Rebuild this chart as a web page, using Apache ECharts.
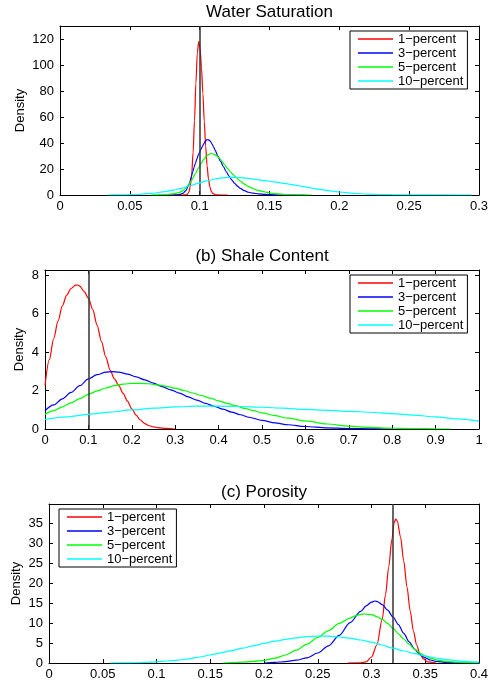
<!DOCTYPE html>
<html>
<head>
<meta charset="utf-8">
<title>Density</title>
<script src="https://cdn.jsdelivr.net/npm/echarts@6.0.0/dist/echarts.min.js"></script>
<style>
html, body { margin: 0; padding: 0; background: #fff; }
#main { width: 493px; height: 683px; }
</style>
</head>
<body>
<div id="main"></div>
<script>
var seriesNames = ['1\u2212percent', '3\u2212percent', '5\u2212percent', '10\u2212percent'];
var panelTitles = ['Water Saturation', '(b) Shale Content', '(c) Porosity'];
var xMax = [0.3, 1, 0.4];
var xStep = [0.05, 0.1, 0.05];
var yMax = [130, 8.26, 39.75];
var yStep = [20, 2, 5];
var trueValue = [0.1, 0.1, 0.32];

// water saturation, [x, density]
var satRed = [[0.08,0],[0.088,0],[0.0903,0.15],[0.0913,0.7],[0.0923,2.3],[0.0933,6.6],[0.0943,16],[0.0953,33],[0.0963,57.5],[0.0973,86],[0.0983,109],[0.0993,118],[0.1003,113],[0.1013,98],[0.1023,78],[0.1033,56.5],[0.1043,37.5],[0.1053,22.5],[0.1063,12.4],[0.1073,6.2],[0.1083,2.9],[0.1093,1.2],[0.1113,0.16],[0.115,0],[0.12,0]];
var satBlue = [[0.075,0],[0.084,0.2],[0.086,0.5],[0.088,1.3],[0.09,3.2],[0.092,7],[0.093,10.2],[0.094,14],[0.095,17.7],[0.096,21.2],[0.097,24.6],[0.098,27.8],[0.099,30.6],[0.1,33],[0.101,35.3],[0.102,37.5],[0.103,39.5],[0.104,41.2],[0.105,42.4],[0.106,42.6],[0.107,42],[0.108,40.8],[0.109,39],[0.11,36.9],[0.111,34.6],[0.113,30],[0.115,25.8],[0.117,21.8],[0.119,18],[0.121,14.6],[0.123,11.5],[0.125,9],[0.127,6.9],[0.129,5.1],[0.132,3.3],[0.135,2.1],[0.138,1.4],[0.142,0.9],[0.147,0.5],[0.155,0.15],[0.165,0],[0.175,0]];
var satGreen = [[0.065,0],[0.0752,0.3],[0.08,0.8],[0.085,1.8],[0.0875,3],[0.0895,4.6],[0.092,7.5],[0.0943,11.5],[0.097,16.5],[0.099,20.5],[0.101,24.2],[0.103,27.5],[0.105,30],[0.107,31.5],[0.1085,31.9],[0.11,31.5],[0.112,30.3],[0.114,28.4],[0.116,25.8],[0.118,23],[0.12,20.3],[0.122,17.8],[0.124,15.6],[0.126,13.6],[0.129,10.8],[0.132,8.4],[0.135,6.4],[0.138,5],[0.141,3.8],[0.144,3],[0.147,2.3],[0.15,1.7],[0.154,1],[0.158,0.6],[0.162,0.3],[0.17,0.1],[0.18,0]];
var satCyan = [[0.034,0],[0.045,0.1],[0.055,0.4],[0.065,1.2],[0.0752,2.6],[0.081,3.7],[0.087,5.1],[0.093,7.1],[0.099,9],[0.105,10.8],[0.111,12.3],[0.116,13.2],[0.1205,13.6],[0.125,13.6],[0.13,13.3],[0.135,12.8],[0.14,12],[0.1468,11],[0.153,10.1],[0.159,9.2],[0.165,8.2],[0.17,7.3],[0.175,6.4],[0.18,5.4],[0.185,4.5],[0.19,3.7],[0.195,2.9],[0.2,2.3],[0.21,1.3],[0.22,0.65],[0.23,0.3],[0.24,0.15],[0.26,0.05],[0.295,0]];

// shale content
var shaleRed = [[0,2.25],[0.01,3.6],[0.02,4.7],[0.03,5.6],[0.04,6.4],[0.05,6.95],[0.06,7.3],[0.07,7.47],[0.075,7.48],[0.08,7.42],[0.09,7.15],[0.1,6.8],[0.11,6.2],[0.12,5.4],[0.13,4.55],[0.14,3.75],[0.15,3.06],[0.16,2.6],[0.17,2.25],[0.18,1.85],[0.19,1.45],[0.2,1.05],[0.21,0.72],[0.219,0.48],[0.23,0.28],[0.24,0.17],[0.25,0.11],[0.26,0.07],[0.28,0.03],[0.3,0]];
var shaleBlue = [[0,0.95],[0.02,1.25],[0.04,1.57],[0.06,1.9],[0.08,2.25],[0.1,2.6],[0.12,2.82],[0.14,2.95],[0.155,2.98],[0.17,2.95],[0.19,2.85],[0.21,2.71],[0.23,2.55],[0.25,2.38],[0.27,2.2],[0.29,2.03],[0.31,1.86],[0.33,1.67],[0.35,1.5],[0.37,1.33],[0.39,1.18],[0.41,1.03],[0.43,0.88],[0.45,0.74],[0.47,0.61],[0.5,0.45],[0.53,0.32],[0.56,0.22],[0.6,0.13],[0.65,0.06],[0.7,0.025],[0.75,0.01],[0.8,0]];
var shaleGreen = [[0,0.76],[0.02,0.95],[0.04,1.15],[0.06,1.36],[0.08,1.58],[0.1,1.8],[0.12,1.98],[0.14,2.13],[0.16,2.25],[0.18,2.33],[0.2,2.37],[0.22,2.37],[0.24,2.35],[0.26,2.29],[0.28,2.21],[0.3,2.12],[0.32,2],[0.34,1.87],[0.36,1.74],[0.38,1.6],[0.4,1.46],[0.42,1.33],[0.44,1.2],[0.46,1.07],[0.48,0.95],[0.5,0.84],[0.53,0.69],[0.56,0.56],[0.6,0.42],[0.65,0.26],[0.7,0.15],[0.75,0.08],[0.8,0.04],[0.85,0.02],[0.9,0.01],[0.935,0]];
var shaleCyan = [[0,0.5],[0.05,0.63],[0.1,0.76],[0.15,0.88],[0.2,0.99],[0.25,1.08],[0.3,1.15],[0.35,1.19],[0.4,1.19],[0.45,1.17],[0.5,1.13],[0.55,1.08],[0.6,1.02],[0.65,0.97],[0.7,0.92],[0.75,0.87],[0.8,0.8],[0.85,0.72],[0.9,0.63],[0.95,0.53],[1,0.41]];

// porosity
var poroRed = [[0.278,0],[0.29,0.05],[0.295,0.3],[0.3,1.5],[0.305,4.5],[0.31,11],[0.313,17],[0.316,24],[0.319,31],[0.321,35],[0.3225,36],[0.324,35.5],[0.327,31.5],[0.33,25.5],[0.333,19],[0.336,13],[0.339,8],[0.342,4.5],[0.345,2.3],[0.348,1.1],[0.352,0.3],[0.36,0]];
var poroBlue = [[0.2,0],[0.21,0.15],[0.22,0.35],[0.23,0.7],[0.24,1.3],[0.25,2.5],[0.26,4.3],[0.27,6.9],[0.28,10.1],[0.29,12.9],[0.295,14.3],[0.3,15.2],[0.303,15.5],[0.306,15.3],[0.31,14.6],[0.315,13.2],[0.32,11.5],[0.325,9.6],[0.33,7.4],[0.335,5.3],[0.34,3.5],[0.345,2.1],[0.35,1.3],[0.355,0.75],[0.36,0.4],[0.37,0.15],[0.38,0.05],[0.4,0]];
var poroGreen = [[0.162,0],[0.17,0.08],[0.18,0.2],[0.19,0.4],[0.2,0.65],[0.21,1.2],[0.22,2],[0.23,3.2],[0.24,4.7],[0.25,6.4],[0.26,8.1],[0.27,9.9],[0.28,11.2],[0.285,11.8],[0.29,12.15],[0.294,12.25],[0.3,12.1],[0.305,11.6],[0.31,10.9],[0.315,9.9],[0.32,8.7],[0.325,7.3],[0.33,6],[0.335,4.7],[0.34,3.5],[0.345,2.5],[0.35,1.75],[0.355,1.2],[0.36,0.8],[0.37,0.35],[0.38,0.2],[0.39,0.1],[0.4,0.05]];
var poroCyan = [[0.057,0],[0.07,0.02],[0.08,0.06],[0.09,0.15],[0.1,0.3],[0.11,0.5],[0.12,0.7],[0.13,1.05],[0.14,1.5],[0.15,2],[0.16,2.55],[0.17,3.1],[0.18,3.7],[0.19,4.3],[0.2,4.9],[0.21,5.45],[0.22,5.9],[0.23,6.3],[0.24,6.6],[0.25,6.75],[0.26,6.7],[0.27,6.5],[0.28,6.2],[0.29,5.75],[0.3,5.2],[0.31,4.5],[0.32,3.7],[0.33,3],[0.34,2.35],[0.35,1.75],[0.36,1.25],[0.37,0.85],[0.38,0.55],[0.39,0.35],[0.4,0.2]];

var panelData = [
    [satRed, satBlue, satGreen, satCyan],
    [shaleRed, shaleBlue, shaleGreen, shaleCyan],
    [poroRed, poroBlue, poroGreen, poroCyan]
];

var fontFamily = '"Liberation Sans", Arial, Helvetica, sans-serif';
var colors = ['#ff0000', '#0000ff', '#00ff00', '#00ffff'];
var gridBox = [
    {left: 60, top: 26, width: 419, height: 169},
    {left: 45, top: 270, width: 434, height: 159},
    {left: 49, top: 504, width: 430, height: 159}
];
var titleTop = [4, 248, 484];
var nameGap = [33, 19, 26];
var legendPos = [{left: 350, top: 31}, {left: 350, top: 275}, {left: 59, top: 509}];

var chart = echarts.init(document.getElementById('main'), null, {renderer: 'canvas'});

var grids = [], xAxes = [], yAxes = [], titles = [], legends = [], series = [];

function axisBase(min, max, step, pos, showLabel) {
    return {
        type: 'value',
        min: min,
        max: max,
        interval: step,
        position: pos,
        axisLine: {show: true, onZero: false, lineStyle: {color: '#000', width: 1}},
        axisTick: {show: true, inside: true, length: 4, lineStyle: {color: '#000', width: 1}},
        splitLine: {show: false},
        axisLabel: {show: showLabel, color: '#000', fontSize: 13, fontFamily: fontFamily, showMaxLabel: false}
    };
}

for (var i = 0; i < 3; i++) {
    grids.push(gridBox[i]);

    var xb = axisBase(0, xMax[i], xStep[i], 'bottom', true);
    xb.gridIndex = i;
    xb.axisLabel.margin = 5;
    xb.axisLabel.showMaxLabel = true;
    var xt = axisBase(0, xMax[i], xStep[i], 'top', false);
    xt.gridIndex = i;
    xAxes.push(xb, xt);

    var yl = axisBase(0, yMax[i], yStep[i], 'left', true);
    yl.gridIndex = i;
    yl.axisLabel.margin = 6;
    yl.name = 'Density';
    yl.nameLocation = 'middle';
    yl.nameGap = nameGap[i];
    yl.nameMoveOverlap = false;
    yl.nameTextStyle = {color: '#000', fontSize: 13, fontFamily: fontFamily};
    var yr = axisBase(0, yMax[i], yStep[i], 'right', false);
    yr.gridIndex = i;
    yAxes.push(yl, yr);

    titles.push({
        text: panelTitles[i],
        left: gridBox[i].left + gridBox[i].width / 2,
        top: titleTop[i],
        padding: 0,
        textAlign: 'center',
        textStyle: {fontSize: 17, fontWeight: 'normal', color: '#000', fontFamily: fontFamily}
    });

    legends.push({
        left: legendPos[i].left,
        top: legendPos[i].top,
        orient: 'vertical',
        data: seriesNames,
        icon: 'rect',
        itemWidth: 35,
        itemHeight: 1.5,
        itemGap: 0,
        padding: [1, 4, 1, 8],
        borderColor: '#000',
        borderWidth: 1,
        borderRadius: 0,
        backgroundColor: '#fff',
        selectedMode: false,
        textStyle: {fontSize: 13, lineHeight: 14, color: '#000', fontFamily: fontFamily}
    });

    for (var k = 0; k < 4; k++) {
        var s = {
            type: 'line',
            name: seriesNames[k],
            xAxisIndex: 2 * i,
            yAxisIndex: 2 * i,
            data: panelData[i][k],
            showSymbol: false,
            symbol: 'none',
            smooth: 0.3,
            smoothMonotone: 'x',
            animation: false,
            emphasis: {disabled: true},
            lineStyle: {color: colors[k], width: 1.2},
            itemStyle: {color: colors[k]},
            z: 2 + k
        };
        if (k === 3) {
            s.markLine = {
                silent: true,
                symbol: ['none', 'none'],
                label: {show: false},
                animation: false,
                lineStyle: {color: '#333', width: 1.5, type: 'solid'},
                data: [{xAxis: trueValue[i]}]
            };
        }
        series.push(s);
    }
}

chart.setOption({
    backgroundColor: '#fff',
    animation: false,
    title: titles,
    legend: legends,
    grid: grids,
    xAxis: xAxes,
    yAxis: yAxes,
    series: series
});
</script>
</body>
</html>
